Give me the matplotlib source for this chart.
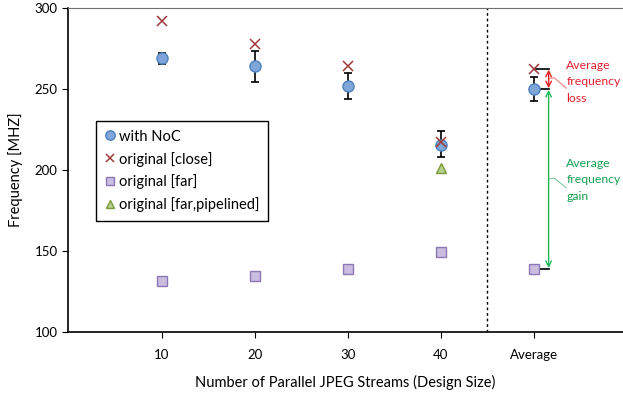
import numpy as np
import matplotlib
matplotlib.use("Agg")
import matplotlib.pyplot as plt

plt.rcParams["font.family"] = ["Lato", "DejaVu Sans"]

# ── data ──────────────────────────────────────────────────────────────────────
categories  = ["10", "20", "30", "40", "Average"]
noc         = [269.0, 264.0, 252.0, 215.5, 250.0]
noc_err_lo  = [3.6, 9.7, 8.2, 7.5, 7.2]
noc_err_hi  = [3.4, 9.6, 8.0, 8.6, 7.6]
close       = [292.3, 277.8, 264.3, 217.5, 262.5]
far         = [131.8, 134.5, 139.0, 149.5, 139.0]
pipe_pos    = [4]
pipelined   = [201.0]
# ─────────────────────────────────────────────────────────────────────────────

x = np.arange(1, len(categories) + 1)
avg_x = x[-1]

fig = plt.figure(figsize=(6.23, 3.96), dpi=100)
ax = fig.add_axes([0.109, 0.1616, 0.891, 0.818])

ax.errorbar(x, noc, yerr=[noc_err_lo, noc_err_hi], fmt="none", ecolor="black",
            elinewidth=1.2, capsize=3, capthick=1.2, zorder=2)
h_noc, = ax.plot(x, noc, "o", ms=8, mfc="#7fa6d8", mec="#4f81bd", mew=1, ls="none", zorder=3)
h_close, = ax.plot(x, close, "x", ms=7.5, mec="#a0393a", mew=1.1, ls="none", zorder=4)
h_far, = ax.plot(x, far, "s", ms=7.5, mfc="#c9bde0", mec="#8d78b6", mew=1, ls="none", zorder=3)
h_pipe, = ax.plot(pipe_pos, pipelined, "^", ms=7.5, mfc="#b6d08a", mec="#7a9a3c", mew=1, ls="none", zorder=3)

ax.axvline(4.5, color="black", lw=1, ls=(0, (2, 2)))

# average annotations
bx = avg_x + 0.16
for v in (close[-1], noc[-1], far[-1]):
    ax.plot([avg_x, bx], [v, v], color="black", lw=1.2, zorder=1)
ax.annotate("", xy=(bx, noc[-1] + 0.5), xytext=(bx, close[-1] - 0.5),
            arrowprops=dict(arrowstyle="<->", color="#e02020", lw=1, shrinkA=0, shrinkB=0))
ax.annotate("", xy=(bx, far[-1] + 0.5), xytext=(bx, noc[-1] - 0.5),
            arrowprops=dict(arrowstyle="<->", color="#1db954", lw=1, shrinkA=0, shrinkB=0))

tx = avg_x + 0.35
ax.text(tx, 268, "Average\nfrequency\nloss", color="#e0202e", fontsize=8.8, va="top", ha="left", linespacing=1.6)
ax.text(tx, 207.5, "Average\nfrequency\ngain", color="#14a050", fontsize=8.8, va="top", ha="left", linespacing=1.6)
ax.plot([bx, bx + 0.06, tx], [256.5, 257, 250.5], color="#f08080", lw=0.8)
ax.plot([bx, bx + 0.06, tx], [194.5, 195, 189], color="#80d0a0", lw=0.8)

ax.set_xlim(-0.01, 5.96)
ax.set_ylim(100, 300)
ax.set_yticks([100, 150, 200, 250, 300])
ax.set_xticks(x)
ax.set_xticklabels(categories)
ax.tick_params(labelsize=9.5, length=4, color="black")
ax.tick_params(axis="x", pad=8)

ax.spines["right"].set_visible(False)
ax.spines["top"].set_color("#707070")
ax.spines["left"].set_linewidth(1.2)
ax.spines["bottom"].set_linewidth(1.2)

ax.set_ylabel("Frequency [MHZ]", fontsize=10.5, labelpad=8)
ax.set_xlabel("Number of Parallel JPEG Streams (Design Size)", fontsize=10.5, labelpad=10)

leg = ax.legend([h_noc, h_close, h_far, h_pipe],
                ["with NoC", "original [close]", "original [far]", "original [far,pipelined]"],
                loc="upper left", bbox_to_anchor=(0.05, 0.652), borderaxespad=0, fontsize=10.5,
                handlelength=0.7, handletextpad=0.3, borderpad=0.6, labelspacing=0.55,
                fancybox=False, framealpha=1, edgecolor="black", markerscale=0.85)
leg.get_frame().set_linewidth(1)

fig.savefig("out.png", dpi=100)
